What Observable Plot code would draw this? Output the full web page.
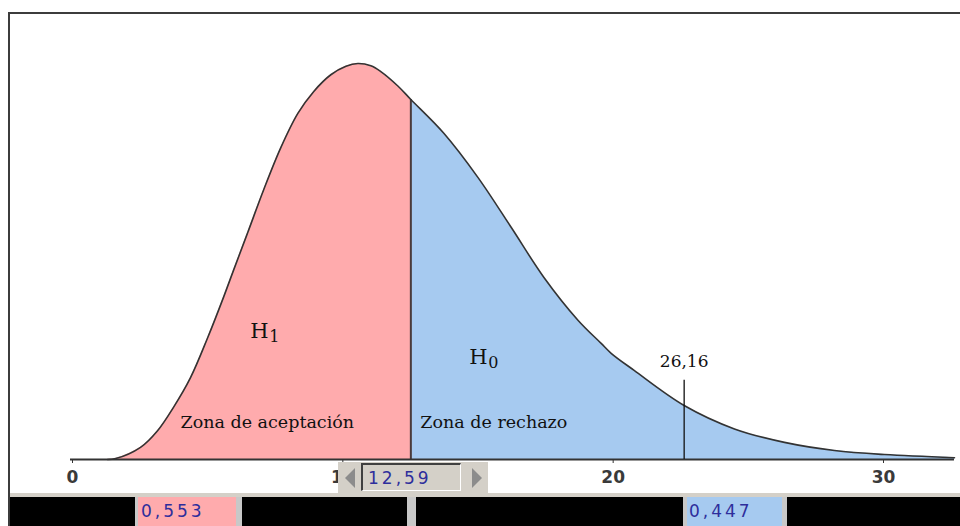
<!DOCTYPE html>
<html><head><meta charset="utf-8">
<script src="https://cdn.jsdelivr.net/npm/d3@7"></script>
<script src="https://cdn.jsdelivr.net/npm/@observablehq/plot@0.6"></script>
<style>
body{margin:0;background:#fff;width:960px;height:526px;overflow:hidden;position:relative;}
#chart{position:absolute;left:0;top:0;}
.abs{position:absolute;}
.num{font-family:"DejaVu Sans";font-size:17px;letter-spacing:3px;color:#2e2e9c;line-height:29px;}
</style></head><body>
<div id="chart"></div>
<script>
// chi-square-like density
const xs   = [1.37, 1.67, 2.59, 3.22, 3.81, 4.44, 5.07, 5.67, 6.04, 6.56, 7.15, 7.78, 8.41, 9.00, 9.63, 10.19, 10.63, 11.11, 11.48, 12.11, 12.59, 13.81, 15.07, 16.30, 17.52, 18.78, 19.63, 20.00, 20.85, 22.70, 24.56, 26.41, 28.26, 30.11, 32.70];
const dens = [0, 0.0002, 0.0027, 0.0064, 0.0116, 0.0182, 0.0270, 0.0362, 0.0422, 0.0505, 0.0600, 0.0693, 0.0769, 0.0818, 0.0855, 0.0874, 0.0880, 0.0875, 0.0862, 0.0830, 0.0800, 0.0725, 0.0627, 0.0516, 0.0404, 0.0309, 0.0258, 0.0236, 0.0198, 0.0120, 0.0068, 0.0038, 0.0020, 0.0011, 0.0004];
const cut = 12.59;
const cutLabel = "12,59";
const critical = 22.7;
const criticalTop = 0.0176;
const criticalLabel = "26,16";
const tickValues = [0, 10, 20, 30];
const probLabels = ["0,553", "0,447"];
const zoneNames = ["Zona de aceptación", "Zona de rechazo"];
const zoneX = [4.07, 12.94];
const zoneY = [0.0082, 0.0082];
const hypLetter = ["H", "H"];
const hypIndex = ["1", "0"];
const hypX = [6.65, 14.75];
const hypY = [0.0285, 0.0228];

const pts = xs.map((x, i) => ({x, y: dens[i]}));
const left = pts.filter(d => d.x <= cut);
const right = pts.filter(d => d.x >= cut);
const cutY = dens[xs.indexOf(cut)];
const serif = "DejaVu Serif";

const plot = Plot.plot({
  width: 960, height: 526,
  marginLeft: 70, marginRight: 79, marginTop: 63, marginBottom: 67,
  x: {domain: [0, 30]},
  y: {domain: [0, 0.088], axis: null},
  style: {background: "transparent", overflow: "visible"},
  marks: [
    Plot.areaY(left, {x: "x", y: "y", fill: "#ffabad", curve: "catmull-rom"}),
    Plot.areaY(right, {x: "x", y: "y", fill: "#a6caf0", curve: "catmull-rom"}),
    Plot.ruleX([cut], {y1: 0, y2: cutY, stroke: "#4a3a3a", strokeWidth: 2}),
    Plot.line(pts, {x: "x", y: "y", stroke: "#333", strokeWidth: 1.6, curve: "catmull-rom"}),
    Plot.ruleY([0], {x1: 0, x2: xs[xs.length - 1], stroke: "#333", strokeWidth: 2}),
    Plot.ruleX([critical], {y1: 0, y2: criticalTop, stroke: "#111", strokeWidth: 1.3}),
    Plot.axisX({ticks: tickValues, tickSize: 4, tickPadding: 7, tickFormat: d => String(d),
      fontFamily: "DejaVu Sans", fontWeight: "bold", fontSize: 17, fill: "#3a3a3a", stroke: "#333", label: null,
      dx: 2, style: {letterSpacing: "4px"}}),
    Plot.text([criticalLabel], {x: critical, y: 0.0218, text: d => d, fontFamily: serif, fontSize: 17, fill: "#111", style: {letterSpacing: "-0.5px"}}),
    Plot.text(zoneNames, {x: (d, i) => zoneX[i], y: (d, i) => zoneY[i], text: d => d, textAnchor: "start", fontFamily: serif, fontSize: 17.5, fill: "#111"}),
    Plot.text(hypLetter, {x: (d, i) => hypX[i], y: (d, i) => hypY[i], text: d => d, textAnchor: "start", fontFamily: serif, fontSize: 21, fill: "#111"}),
    Plot.text(hypIndex, {x: (d, i) => hypX[i], y: (d, i) => hypY[i], text: d => d, textAnchor: "start", dx: 19, dy: 6, fontFamily: serif, fontSize: 16, fill: "#111"})
  ]
});
document.getElementById("chart").appendChild(plot);

function box(l, t, w, h, css) {
  const d = document.createElement("div");
  d.className = "abs";
  d.style.left = l + "px"; d.style.top = t + "px"; d.style.width = w + "px"; d.style.height = h + "px";
  Object.assign(d.style, css || {});
  document.body.appendChild(d);
  return d;
}
// frame
box(9, 12, 951, 2, {background: "#3c3c3c"});
box(8, 12, 2, 514, {background: "#3c3c3c"});
// bottom strip
box(10, 493, 950, 4, {background: "#d4d0c8"});
box(10, 497, 950, 29, {background: "#000"});
// separators
[[135, 3], [236, 6], [407, 9], [683, 4], [782, 5]].forEach(([l, w]) => box(l, 497, w, 29, {background: "#c8c8c8"}));
// probability boxes
const b1 = box(138, 497, 98, 29, {background: "#ffabad"}); b1.className += " num"; b1.style.paddingLeft = "3px"; b1.style.boxSizing = "border-box"; b1.textContent = probLabels[0];
const b2 = box(687, 497, 95, 29, {background: "#a6caf0"}); b2.className += " num"; b2.style.paddingLeft = "2px"; b2.style.boxSizing = "border-box"; b2.textContent = probLabels[1];
// slider widget
box(338, 462, 150, 32, {background: "#d4d0c8"});
box(345, 468, 0, 0, {borderTop: "10px solid transparent", borderBottom: "10px solid transparent", borderRight: "10px solid #8c8c8c"});
box(472, 468, 0, 0, {borderTop: "10px solid transparent", borderBottom: "10px solid transparent", borderLeft: "10px solid #8c8c8c"});
const tb = box(361, 463, 100, 28, {background: "#d4d0c8", borderTop: "2px solid #404040", borderLeft: "2px solid #404040", borderBottom: "1px solid #fff", borderRight: "1px solid #fff", boxSizing: "border-box"});
tb.className += " num"; tb.style.lineHeight = "26px"; tb.style.paddingLeft = "5px"; tb.textContent = cutLabel;
</script>
</body></html>
